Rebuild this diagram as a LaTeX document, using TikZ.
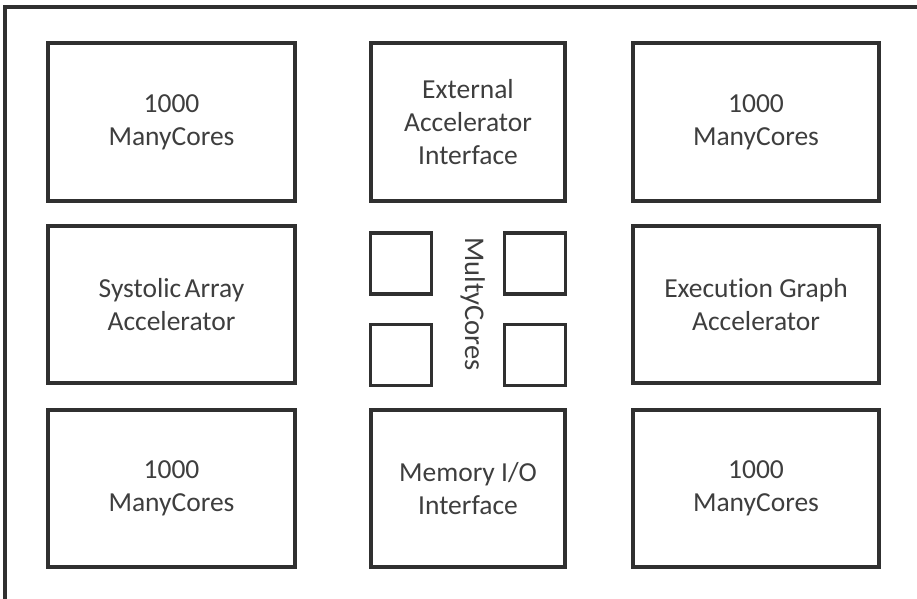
\documentclass[tikz,border=0pt]{standalone}
\usepackage{fontspec}
\setmainfont{Carlito}[Ligatures=NoCommon]
\usetikzlibrary{positioning}
\definecolor{edgegray}{RGB}{48,48,48}
\definecolor{textgray}{RGB}{62,62,62}
\tikzset{
block/.style={
  draw=edgegray, line width=3.1pt, rectangle,
  align=center, text=textgray, inner sep=0pt,
  font=\fontsize{27.5}{33}\selectfont
  },
core/.style={
  draw=edgegray, line width=3.1pt, rectangle,
  minimum width=61pt, minimum height=61pt, inner sep=0pt
  }
}
\begin{document}
\begin{tikzpicture}[x=1pt,y=-1pt]
\useasboundingbox (0,0) rectangle (917,598);
\clip (0,0) rectangle (917,598);

% chip outline, runs off the right and bottom
\draw[edgegray, line width=3.1pt] (5,7) rectangle (940,620);

% top row
\node[block, minimum width=247pt, minimum height=158pt] (mc1) at (171.5,122) {1000\\ManyCores};
\node[block, minimum width=194pt, minimum height=158pt] (ext) at (468,122) {External\\Accelerator\\Interface};
\node[block, minimum width=246pt, minimum height=158pt] (mc2) at (756,122) {1000\\ManyCores};

% middle row
\node[block, minimum width=247pt, minimum height=157pt] (saa) at (171.5,304.5) {Systolic\hspace{0.12em}Array\\Accelerator};
\node[block, minimum width=246pt, minimum height=157pt] (ega) at (756,304.5) {Execution Graph\\Accelerator};

% bottom row
\node[block, minimum width=247pt, minimum height=157pt] (mc3) at (171.5,488.5) {1000\\ManyCores};
\node[block, minimum width=194pt, minimum height=157pt] (mio) at (468,488.5) {Memory I/O\\Interface};
\node[block, minimum width=246pt, minimum height=157pt] (mc4) at (756,488.5) {1000\\ManyCores};

% multicore cluster
\coordinate (mcc) at (468,309);
\node[core, above left=13.5pt and 35pt of mcc] (core1) {};
\node[core, above right=13.5pt and 35pt of mcc] (core2) {};
\node[core, below left=13.5pt and 35pt of mcc] (core3) {};
\node[core, below right=13.5pt and 35pt of mcc] (core4) {};
\node[rotate=-90, anchor=base, text=textgray, inner sep=0pt,
  font=\fontsize{28.5}{33}\selectfont] (mclabel) at (465,304) {MultyCores};

\end{tikzpicture}
\end{document}
